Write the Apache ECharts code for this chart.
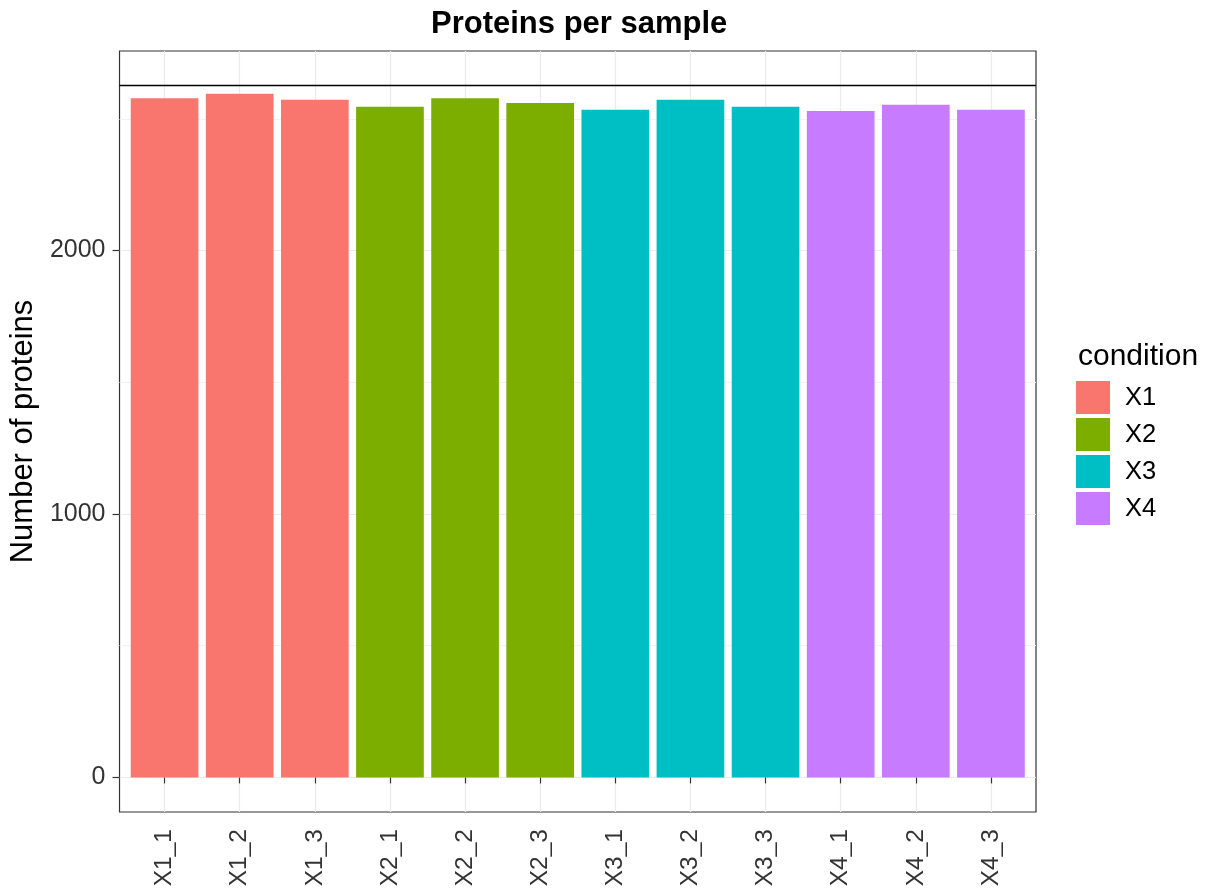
<!DOCTYPE html>
<html>
<head>
<meta charset="utf-8">
<script src="https://cdn.jsdelivr.net/npm/echarts@6/dist/echarts.min.js"></script>
<style>
html,body{margin:0;padding:0;background:#fff;}
#chart{width:1208px;height:892px;}
</style>
</head>
<body>
<div id="chart"></div>
<script>
// ---- data ----
const samples = ['X1_1','X1_2','X1_3','X2_1','X2_2','X2_3','X3_1','X3_2','X3_3','X4_1','X4_2','X4_3'];
const sampleCondition = ['X1','X1','X1','X2','X2','X2','X3','X3','X3','X4','X4','X4'];
const proteinCounts = [2578, 2595, 2572, 2546, 2578, 2560, 2534, 2572, 2546, 2530, 2553, 2534];
const conditions = ['X1','X2','X3','X4'];
const conditionColors = ['#F8766D','#7CAE00','#00BFC4','#C77CFF'];
const totalProteins = 2626;
const yTicks = [0, 1000, 2000];
const yMinorTicks = [500, 1500, 2500];

const FONT = "'Liberation Sans', Arial, sans-serif";
const yMin = 0 - 0.05 * totalProteins;
const yMax = totalProteins * 1.05;
const xPositions = samples.map((s, i) => i + 1);

const series = conditions.map((c, ci) => ({
  name: c,
  type: 'bar',
  stack: 'all',
  barWidth: 67.7,
  itemStyle: { color: conditionColors[ci] },
  emphasis: { disabled: true },
  data: samples.map((s, i) => sampleCondition[i] === c ? [xPositions[i], proteinCounts[i]] : null).filter(d => d),
  markLine: ci === 0 ? {
    silent: true,
    symbol: 'none',
    label: { show: false },
    lineStyle: { color: '#000', width: 1.3, type: 'solid' },
    data: [{ yAxis: totalProteins }]
  } : undefined
}));

const chart = echarts.init(document.getElementById('chart'), null, { renderer: 'canvas' });
chart.setOption({
  animation: false,
  backgroundColor: '#fff',
  textStyle: { fontFamily: FONT },
  title: [
    { text: 'Proteins per sample', left: 426, top: 4,
      textStyle: { fontFamily: FONT, fontSize: 31, fontWeight: 'bold', color: '#000' } },
    { text: 'condition', left: 1073, top: 337,
      textStyle: { fontFamily: FONT, fontSize: 30, fontWeight: 'normal', color: '#000' } }
  ],
  legend: {
    data: conditions,
    orient: 'vertical',
    left: 1076,
    top: 381,
    itemWidth: 34,
    itemHeight: 33,
    itemGap: 4,
    icon: 'rect',
    selectedMode: false,
    padding: 0,
    textStyle: { fontFamily: FONT, fontSize: 25.5, color: '#000', padding: [0, 0, 0, 10] }
  },
  grid: {
    left: 118, right: 172, top: 51, bottom: 80,
    show: true, borderColor: '#333333', borderWidth: 1.2, backgroundColor: 'transparent'
  },
  xAxis: {
    type: 'value',
    min: 0.4, max: 12.6,
    axisLine: { show: false },
    axisTick: { show: true, length: 6, lineStyle: { color: '#333', width: 1.2 }, customValues: xPositions },
    axisLabel: {
      customValues: xPositions,
      rotate: 90, margin: 17,
      fontFamily: FONT, fontSize: 24.5, color: '#333',
      formatter: v => samples[Math.round(v) - 1] || ''
    },
    splitLine: { show: true, lineStyle: { color: '#ebebeb', width: 1.2 } }
  },
  yAxis: [
    {
      type: 'value',
      min: yMin, max: yMax,
      axisLine: { show: false },
      axisTick: { show: true, length: 7, lineStyle: { color: '#333', width: 1.2 }, customValues: yTicks },
      axisLabel: { customValues: yTicks, margin: 14, fontFamily: FONT, fontSize: 25, color: '#333',
        formatter: v => String(v) },
      splitLine: { show: true, lineStyle: { color: '#ebebeb', width: 1.2 } },
      name: 'Number of proteins',
      nameLocation: 'middle',
      nameGap: 76,
      nameTextStyle: { fontFamily: FONT, fontSize: 31, color: '#000' }
    },
    {
      type: 'value',
      min: yMin, max: yMax,
      axisLine: { show: false },
      axisTick: { show: false, customValues: yMinorTicks },
      axisLabel: { show: false, customValues: yMinorTicks },
      splitLine: { show: true, lineStyle: { color: '#f2f2f2', width: 1 } }
    }
  ],
  series: series
});
</script>
</body>
</html>
